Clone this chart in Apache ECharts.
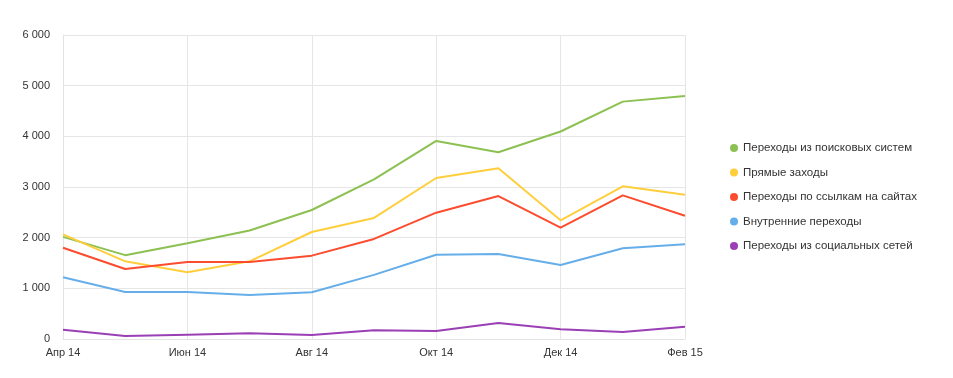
<!DOCTYPE html>
<html><head><meta charset="utf-8">
<script src="https://cdn.jsdelivr.net/npm/echarts@6/dist/echarts.min.js"></script>
<style>html,body{margin:0;padding:0;background:#fff}#c{width:953px;height:378px}</style>
</head><body><div id="c"></div>
<script>
var months = ['Апр 14','Май 14','Июн 14','Июл 14','Авг 14','Сен 14','Окт 14','Ноя 14','Дек 14','Янв 15','Фев 15'];
var searchVals = [2015,1655,1890,2140,2546,3150,3910,3685,4095,4685,4796];
var directVals = [2066,1533,1316,1533,2112,2390,3178,3368,2342,3013,2848];
var linkVals = [1802,1382,1520,1520,1645,1975,2493,2822,2197,2835,2434];
var internalVals = [1217,928,928,868,921,1265,1664,1677,1460,1790,1869];
var socialVals = [184,59,85,112,79,171,158,316,191,138,243];
var seriesNames = ['Переходы из поисковых систем','Прямые заходы','Переходы по ссылкам на сайтах','Внутренние переходы','Переходы из социальных сетей'];
var colors = ['#8cc152','#ffce3d','#fc4c2f','#66aee9','#9b3fb5'];
var allData = [searchVals, directVals, linkVals, internalVals, socialVals];

var chart = echarts.init(document.getElementById('c'));
var font = 'Liberation Sans, Arial, sans-serif';
chart.setOption({
  animation: false,
  textStyle: {fontFamily: font},
  color: colors,
  grid: {left: 63, right: 268, top: 35, bottom: 39},
  legend: {
    orient: 'vertical', left: 725, top: 137,
    icon: 'circle', itemWidth: 8, itemHeight: 8, itemGap: 12.5,
    textStyle: {fontSize: 11.5, color: '#333', fontFamily: font},
    data: seriesNames
  },
  xAxis: {
    type: 'category', data: months, boundaryGap: false,
    axisLine: {lineStyle: {color: '#e3e3e3'}},
    axisTick: {show: false},
    axisLabel: {interval: 1, color: '#333', fontSize: 11, margin: 8, fontFamily: font},
    splitLine: {show: true, interval: 1, lineStyle: {color: '#e6e6e6'}}
  },
  yAxis: {
    type: 'value', min: 0, max: 6000, interval: 1000,
    axisLine: {show: true, lineStyle: {color: '#e3e3e3'}},
    axisTick: {show: false},
    axisLabel: {color: '#333', fontSize: 11, margin: 13, fontFamily: font,
      formatter: function(v){ return String(v).replace(/\B(?=(\d{3})+(?!\d))/g, ' '); }},
    splitLine: {lineStyle: {color: '#e6e6e6'}}
  },
  series: seriesNames.map(function(n, i){
    return {name: n, type: 'line', data: allData[i], symbol: 'none',
      lineStyle: {width: 2, color: colors[i]}, itemStyle: {color: colors[i]}};
  })
});
</script></body></html>
